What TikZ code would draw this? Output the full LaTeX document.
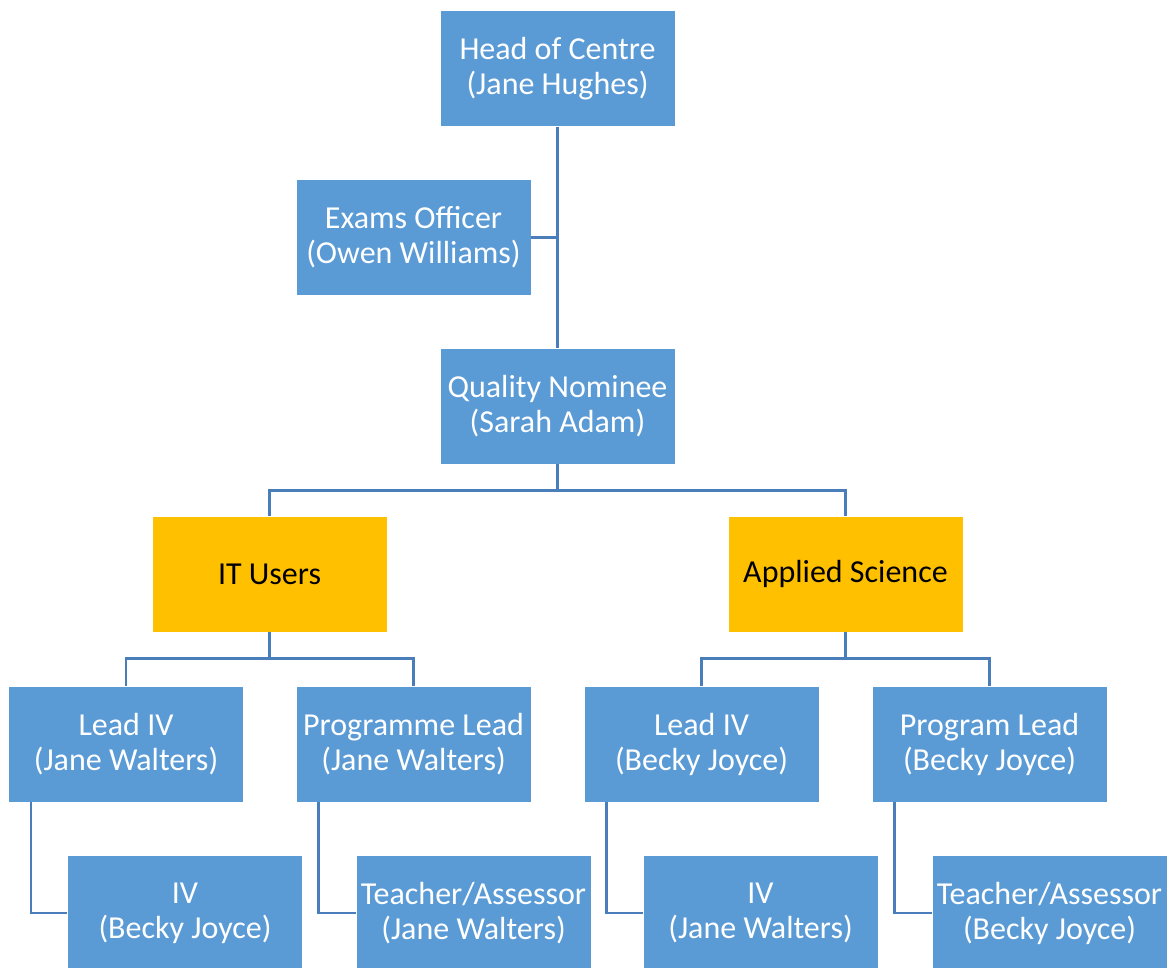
\documentclass[tikz,border=0pt]{standalone}
\usepackage{fontspec}
\setmainfont{Carlito}
\definecolor{boxblue}{RGB}{91,155,213}
\definecolor{boxyellow}{RGB}{255,192,0}
\definecolor{linkblue}{RGB}{74,126,187}
\tikzset{
  rolebox/.style={rectangle, draw=white, line width=0.8pt, fill=boxblue, text=white,
    minimum width=235pt, minimum height=116pt, inner sep=2pt, align=center,
    font=\fontsize{32}{35}\selectfont},
  deptbox/.style={rolebox, fill=boxyellow, text=black},
  link/.style={draw=linkblue, line width=2.5pt}
}
\begin{document}
\begin{tikzpicture}[x=1pt,y=-1pt]
\useasboundingbox (0,0) rectangle (1169,967);
\node[rolebox] (hoc) at (557.5,68.5) {Head of Centre\\(Jane Hughes)};
\node[rolebox] (eo) at (413.5,237.5) {Exams Officer\\(Owen Williams)};
\node[rolebox] (qn) at (557.5,406) {Quality Nominee\\(Sarah Adam)};
\node[deptbox] (it) at (269.5,574) {IT Users};
\node[deptbox] (as) at (845.5,574) {Applied Science};
\node[rolebox] (liv1) at (126,744) {Lead IV\\(Jane Walters)};
\node[rolebox] (pl1) at (413.5,744) {Programme Lead\\(Jane Walters)};
\node[rolebox] (liv2) at (701.5,744) {Lead IV\\(Becky Joyce)};
\node[rolebox] (pl2) at (989.5,744) {Program Lead\\(Becky Joyce)};
\node[rolebox] (iv1) at (185,913) {IV\\(Becky Joyce)};
\node[rolebox] (ta1) at (473.5,913) {Teacher/Assessor\\(Jane Walters)};
\node[rolebox] (iv2) at (760.5,913) {IV\\(Jane Walters)};
\node[rolebox] (ta2) at (1049.5,913) {Teacher/Assessor\\(Becky Joyce)};
\draw[link] (hoc.south) -- (qn.north);
\draw[link] (eo.east) -- (eo.east -| hoc.south);
\draw[link] (qn.south) -- ++(0,26) -| (it.north);
\draw[link] (qn.south) -- ++(0,26) -| (as.north);
\draw[link] (it.south) -- ++(0,26) -| (liv1.north);
\draw[link] (it.south) -- ++(0,26) -| (pl1.north);
\draw[link] (as.south) -- ++(0,26) -| (liv2.north);
\draw[link] (as.south) -- ++(0,26) -| (pl2.north);
\draw[link] ([xshift=23pt]liv1.south west) |- (iv1.west);
\draw[link] ([xshift=23pt]pl1.south west) |- (ta1.west);
\draw[link] ([xshift=23pt]liv2.south west) |- (iv2.west);
\draw[link] ([xshift=23pt]pl2.south west) |- (ta2.west);
\end{tikzpicture}
\end{document}
